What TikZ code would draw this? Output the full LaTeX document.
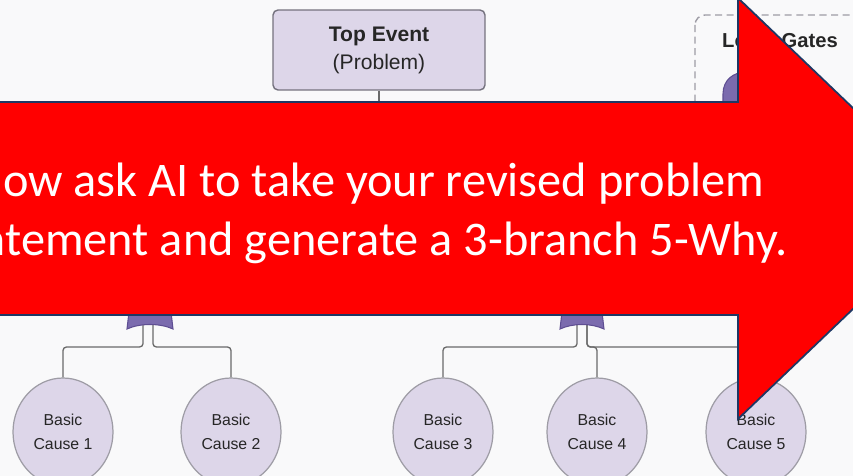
\documentclass[tikz,border=0pt]{standalone}
\usepackage{fontspec}
\setmainfont{Liberation Sans}
\newfontfamily\calibrifont{Carlito}
\usetikzlibrary{positioning,shapes.geometric,calc}
\definecolor{ftbg}{HTML}{F9F9FA}
\definecolor{ftlav}{HTML}{DDD6E9}
\definecolor{ftedge}{HTML}{75727E}
\definecolor{ftgate}{HTML}{7B6BAE}
\definecolor{ftgatedark}{HTML}{5E4E92}
\definecolor{ftwire}{HTML}{6A6A6A}
\definecolor{ftink}{HTML}{262626}
\definecolor{callred}{HTML}{FF0000}
\definecolor{callnavy}{HTML}{1F3864}

\begin{document}
\begin{tikzpicture}[
    x=0.02cm,
    y=-0.02cm,
    font=\fontsize{9}{14}\selectfont,
    eventbox/.style={rectangle, rounded corners=1mm, draw=ftedge, line width=0.8pt, fill=ftlav, text=ftink, minimum width=4.24cm, minimum height=1.6cm, align=center, font=\fontsize{12}{16}\selectfont},
    causenode/.style={ellipse, draw=ftedge!70, line width=0.7pt, fill=ftlav, text=ftink, minimum width=2cm, minimum height=2.16cm, inner sep=0pt, align=center},
    gateshape/.style={fill=ftgate, draw=ftgatedark, line width=0.6pt},
    wire/.style={draw=ftwire, line width=0.75pt, rounded corners=2pt},
    callout/.style={fill=callred, draw=callnavy, line width=1pt, line join=miter},
    calltext/.style={text=white, inner sep=0pt, font=\calibrifont\fontsize{27.5}{33}\selectfont}
  ]
    \useasboundingbox (0,0) rectangle (853,476);
    \clip (0,0) rectangle (853,476);
    \fill[ftbg] (0,0) rectangle (853,476);

    % legend panel (mostly under the arrow)
    \draw[ftedge!70, line width=0.8pt, dash pattern=on 4pt off 2.6pt, rounded corners=2mm] (695,15) rectangle (900,270);
    \node[font=\bfseries\fontsize{11.5}{14}\selectfont, text=ftink] (legendtitle) at (780,42) {Logic Gates};
    \path[gateshape] (723,125) -- (723,94) .. controls (723,65) and (767,65) .. (767,94) -- (767,125) -- cycle;
    \node[anchor=east, text=ftink, font=\fontsize{11}{14}\selectfont] (andlabel) at (838,91) {AND};

    % tree
    \node[eventbox] (top) at (379,50) {\textbf{Top Event}\\(Problem)};
    \coordinate (topjoin) at (379,160);
    \draw[wire] (top.south) -- (topjoin);

    \node[causenode] (cause1) at (63,432) {Basic\\Cause 1};
    \node[causenode] (cause2) at (231,432) {Basic\\Cause 2};
    \node[causenode] (cause3) at (443,432) {Basic\\Cause 3};
    \node[causenode] (cause4) at (597,432) {Basic\\Cause 4};
    \node[causenode] (cause5) at (756,432) {Basic\\Cause 5};

    \coordinate (gateA) at (148,325);
    \coordinate (gateB) at (582,325);
    \coordinate (bus) at (0,347);

    \draw[wire] ([xshift=-2.8pt]gateA) |- (bus -| cause1.north) -- (cause1.north);
    \draw[wire] ([xshift=2.8pt]gateA) |- (bus -| cause2.north) -- (cause2.north);
    \draw[wire] ([xshift=-2.8pt]gateB) |- (bus -| cause3.north) -- (cause3.north);
    \draw[wire] ([xshift=2.8pt]gateB) |- (bus -| cause4.north) -- (cause4.north);
    \draw[wire] ([xshift=2.8pt]gateB) |- (bus -| cause5.north) -- (cause5.north);

    \path[gateshape] (131,295) -- (127,329) .. controls (140,323) and (160,323) .. (173,329) -- (169,295) -- cycle;
    \path[gateshape] (564,295) -- (560,329) .. controls (573,323) and (591,323) .. (604,329) -- (600,295) -- cycle;

    % red callout arrow on top
    \path[callout] (-20,102) -- (738,102) -- (738,-2) -- (958,208.5) -- (738,419) -- (738,315) -- (-20,315) -- cycle;
    \node[calltext, anchor=base] (msgA) at (368,197) {Now ask AI to take your revised problem};
    \node[calltext, anchor=base] (msgB) at (368,256) {statement and generate a 3-branch 5-Why.};
\end{tikzpicture}
\end{document}
